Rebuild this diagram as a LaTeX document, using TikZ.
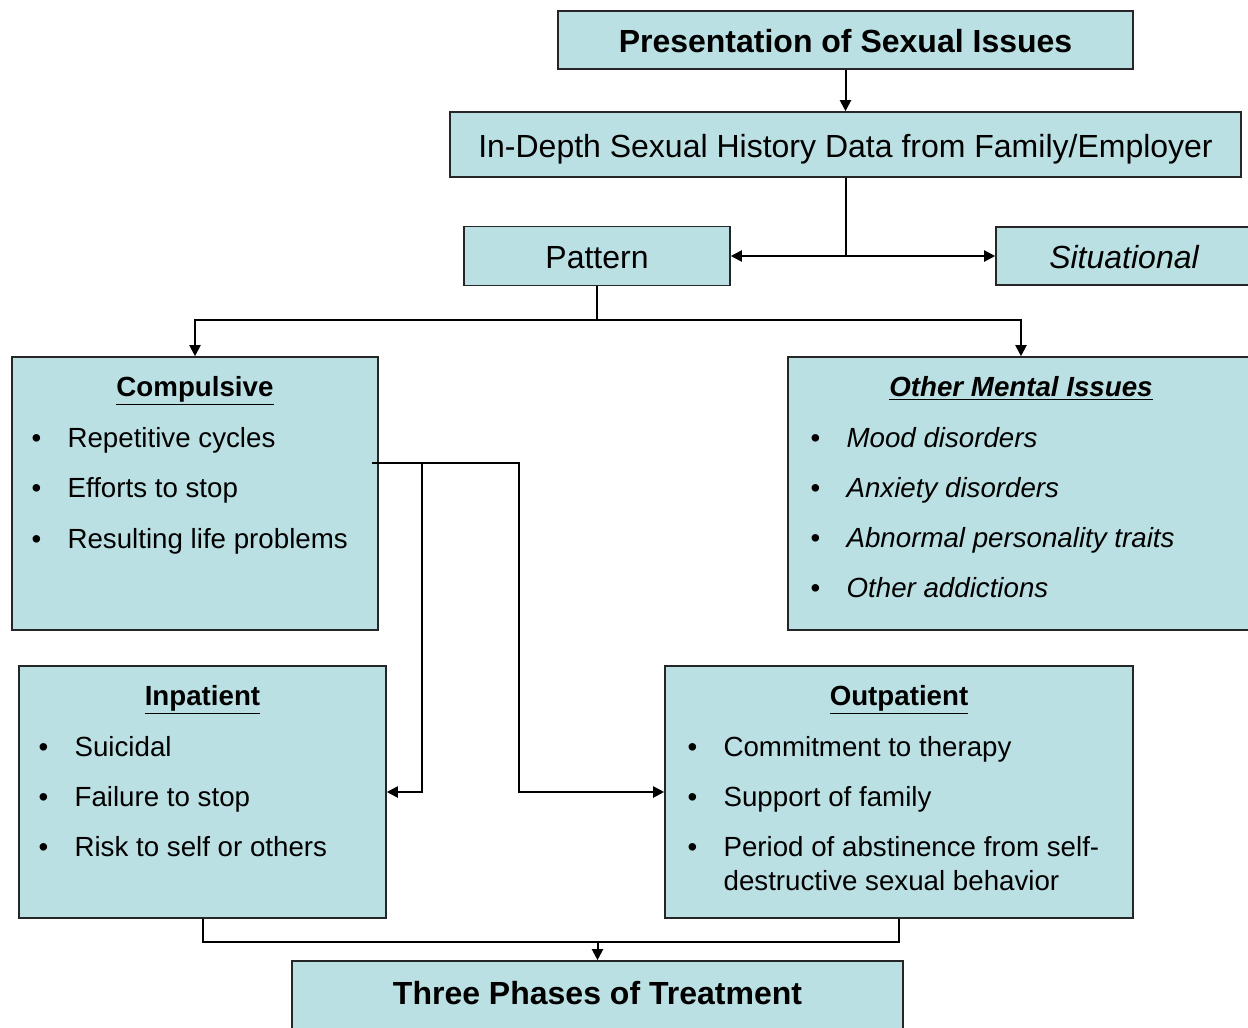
\documentclass[tikz,border=0pt]{standalone}
\usepackage{fontspec}
\setmainfont{Liberation Sans}
\usepackage{xcolor}
\usetikzlibrary{arrows.meta,positioning,calc}
\definecolor{boxfill}{RGB}{187,224,227}
\newcommand{\bul}{\makebox[18pt][l]{\upshape\textbullet}}

\begin{document}
\begin{tikzpicture}[
  x=0.5pt, y=-0.5pt,
  box/.style={rectangle, draw=black!85, line width=0.8pt, fill=boxfill,
              inner sep=0pt},
  big/.style={font=\fontsize{16}{19}\selectfont, text height=12.5pt, text depth=0pt},
  bigb/.style={big, font=\fontsize{16}{19}\selectfont\bfseries},
  bigi/.style={big, font=\fontsize{16}{19}\selectfont\itshape},
  hd/.style={inner sep=0pt, anchor=base,
             font=\fontsize{13.85}{17}\selectfont\bfseries},
  itm/.style={inner sep=0pt, anchor=base west, align=left,
              font=\fontsize{13.85}{17}\selectfont},
  ar/.style={-{Triangle[length=5.5pt,width=5.5pt]}, line width=1pt}
]
\useasboundingbox (0,0) rectangle (1248,1028);

\node[box, bigb, minimum width=287.5pt, minimum height=29pt] (pres) at (845.5,40)
      {Presentation of Sexual Issues};
\node[box, big, minimum width=395.5pt, minimum height=32.5pt] (hist) at (845.5,144.5)
      {In-Depth Sexual History Data from Family/Employer};
\node[box, big, minimum width=133pt, minimum height=29.5pt] (patt) at (597,256) {Pattern};
\node[box, bigi, minimum width=128pt, minimum height=29pt] (situ) at (1124,256) {Situational};

% the four boxes with lists
\node[box, minimum width=183pt, minimum height=136.5pt] (comp) at (195,493.5) {};
\node[box, minimum width=233pt, minimum height=136.5pt] (othr) at (1021,493.5) {};
\node[box, minimum width=183.5pt, minimum height=126pt] (inpt) at (202.5,792) {};
\node[box, minimum width=234pt, minimum height=126pt] (outp) at (899,792) {};
\node[box, minimum width=305.5pt, minimum height=40pt] (phas) at (597.5,1001) {};

\node[hd] (compt) at ([yshift=-20pt]comp.north) {\underline{Compulsive}};
\node[itm] (comp1) at ([xshift=10pt, yshift=-45.5pt]comp.north west) {\bul Repetitive cycles};
\node[itm] (comp2) at ([xshift=10pt, yshift=-70.5pt]comp.north west) {\bul Efforts to stop};
\node[itm] (comp3) at ([xshift=10pt, yshift=-96pt]comp.north west) {\bul Resulting life problems};

\node[hd, font=\fontsize{13.85}{17}\selectfont\bfseries\itshape] (othrt)
      at ([yshift=-20pt]othr.north) {\underline{Other Mental Issues}};
\node[itm, font=\fontsize{13.85}{17}\selectfont\itshape] (othr1)
      at ([xshift=11.5pt, yshift=-45.5pt]othr.north west) {\bul Mood disorders};
\node[itm, font=\fontsize{13.85}{17}\selectfont\itshape] (othr2)
      at ([xshift=11.5pt, yshift=-70.5pt]othr.north west) {\bul Anxiety disorders};
\node[itm, font=\fontsize{13.85}{17}\selectfont\itshape] (othr3)
      at ([xshift=11.5pt, yshift=-95.5pt]othr.north west) {\bul Abnormal personality traits};
\node[itm, font=\fontsize{13.85}{17}\selectfont\itshape] (othr4)
      at ([xshift=11.5pt, yshift=-120.5pt]othr.north west) {\bul Other addictions};

\node[hd] (inptt) at ([yshift=-20pt]inpt.north) {\underline{Inpatient}};
\node[itm] (inpt1) at ([xshift=10pt, yshift=-45.5pt]inpt.north west) {\bul Suicidal};
\node[itm] (inpt2) at ([xshift=10pt, yshift=-70.5pt]inpt.north west) {\bul Failure to stop};
\node[itm] (inpt3) at ([xshift=10pt, yshift=-95.5pt]inpt.north west) {\bul Risk to self or others};

\node[hd] (outpt) at ([yshift=-20pt]outp.north) {\underline{Outpatient}};
\node[itm] (outp1) at ([xshift=11.5pt, yshift=-45.5pt]outp.north west) {\bul Commitment to therapy};
\node[itm] (outp2) at ([xshift=11.5pt, yshift=-70.5pt]outp.north west) {\bul Support of family};
\node[itm] (outp3) at ([xshift=11.5pt, yshift=-112.5pt]outp.north west)
      {\bul Period of abstinence from self-\\\hspace*{18pt}destructive sexual behavior};

\node[inner sep=0pt, anchor=base, font=\fontsize{16}{19}\selectfont\bfseries] (phast)
      at ([yshift=-22pt]phas.north) {Three Phases of Treatment};

\draw[ar] (pres) -- (hist);
\draw[ar] (hist.south) |- (patt.east);
\draw[ar] (hist.south) |- (situ.west);
\draw[ar] (patt.south) -- ++(0,-17pt) -| (comp.north);
\draw[ar] (patt.south) -- ++(0,-17pt) -| (othr.north);
\coordinate (cfork) at ([xshift=-3.5pt, yshift=15.25pt]comp.east);
\draw[ar] (cfork) -- ++(73.5pt,0) |- (outp.west);
\draw[ar] ([xshift=25pt]cfork) |- (inpt.east);
\coordinate (jn) at ([yshift=-11.5pt]inpt.south);
\draw[line width=1pt] (inpt.south) -- (jn) -| (outp.south);
\draw[ar] (jn -| phas.north) -- (phas.north);
\end{tikzpicture}
\end{document}
